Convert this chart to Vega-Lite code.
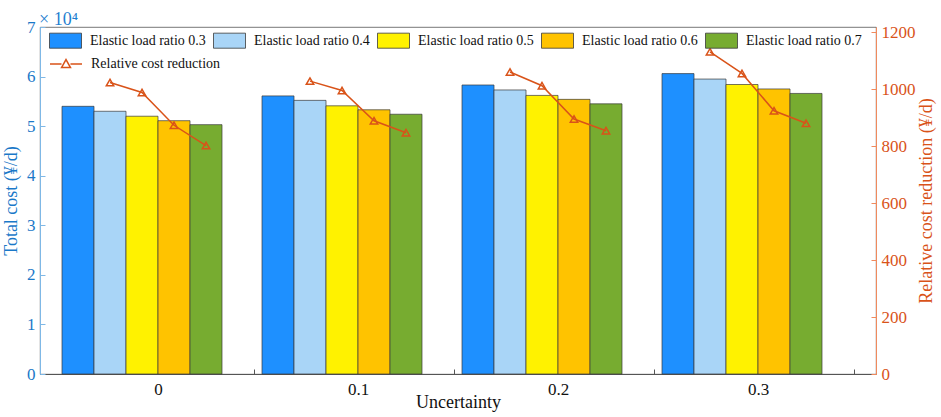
{
  "$schema": "https://vega.github.io/schema/vega-lite/v6.json",
  "description": "Total cost and relative cost reduction by uncertainty and elastic load ratio.",
  "width": 836,
  "height": 347,
  "autosize": {"type": "none"},
  "padding": {"left": 40, "top": 27, "right": 65, "bottom": 43},
  "title": {
    "text": "× 10⁴",
    "anchor": "start",
    "frame": "group",
    "font": "Liberation Serif",
    "fontSize": 18,
    "fontWeight": "normal",
    "color": "#1F7FD0",
    "baseline": "alphabetic",
    "offset": 2,
    "dx": -1,
    "dy": 27
  },
  "datasets": {
    "cost": [
      {"Uncertainty": "0", "Ratio": "Elastic load ratio 0.3", "Cost": 5.40},
      {"Uncertainty": "0", "Ratio": "Elastic load ratio 0.4", "Cost": 5.30},
      {"Uncertainty": "0", "Ratio": "Elastic load ratio 0.5", "Cost": 5.20},
      {"Uncertainty": "0", "Ratio": "Elastic load ratio 0.6", "Cost": 5.11},
      {"Uncertainty": "0", "Ratio": "Elastic load ratio 0.7", "Cost": 5.03},
      {"Uncertainty": "0.1", "Ratio": "Elastic load ratio 0.3", "Cost": 5.61},
      {"Uncertainty": "0.1", "Ratio": "Elastic load ratio 0.4", "Cost": 5.52},
      {"Uncertainty": "0.1", "Ratio": "Elastic load ratio 0.5", "Cost": 5.41},
      {"Uncertainty": "0.1", "Ratio": "Elastic load ratio 0.6", "Cost": 5.33},
      {"Uncertainty": "0.1", "Ratio": "Elastic load ratio 0.7", "Cost": 5.24},
      {"Uncertainty": "0.2", "Ratio": "Elastic load ratio 0.3", "Cost": 5.83},
      {"Uncertainty": "0.2", "Ratio": "Elastic load ratio 0.4", "Cost": 5.73},
      {"Uncertainty": "0.2", "Ratio": "Elastic load ratio 0.5", "Cost": 5.62},
      {"Uncertainty": "0.2", "Ratio": "Elastic load ratio 0.6", "Cost": 5.54},
      {"Uncertainty": "0.2", "Ratio": "Elastic load ratio 0.7", "Cost": 5.45},
      {"Uncertainty": "0.3", "Ratio": "Elastic load ratio 0.3", "Cost": 6.06},
      {"Uncertainty": "0.3", "Ratio": "Elastic load ratio 0.4", "Cost": 5.95},
      {"Uncertainty": "0.3", "Ratio": "Elastic load ratio 0.5", "Cost": 5.84},
      {"Uncertainty": "0.3", "Ratio": "Elastic load ratio 0.6", "Cost": 5.75},
      {"Uncertainty": "0.3", "Ratio": "Elastic load ratio 0.7", "Cost": 5.66}
    ],
    "reduction": [
      {"Uncertainty": "0", "Ratio": "Elastic load ratio 0.4", "Reduction": 1023},
      {"Uncertainty": "0", "Ratio": "Elastic load ratio 0.5", "Reduction": 988},
      {"Uncertainty": "0", "Ratio": "Elastic load ratio 0.6", "Reduction": 873},
      {"Uncertainty": "0", "Ratio": "Elastic load ratio 0.7", "Reduction": 802},
      {"Uncertainty": "0.1", "Ratio": "Elastic load ratio 0.4", "Reduction": 1028},
      {"Uncertainty": "0.1", "Ratio": "Elastic load ratio 0.5", "Reduction": 995},
      {"Uncertainty": "0.1", "Ratio": "Elastic load ratio 0.6", "Reduction": 889},
      {"Uncertainty": "0.1", "Ratio": "Elastic load ratio 0.7", "Reduction": 847},
      {"Uncertainty": "0.2", "Ratio": "Elastic load ratio 0.4", "Reduction": 1060},
      {"Uncertainty": "0.2", "Ratio": "Elastic load ratio 0.5", "Reduction": 1012},
      {"Uncertainty": "0.2", "Ratio": "Elastic load ratio 0.6", "Reduction": 895},
      {"Uncertainty": "0.2", "Ratio": "Elastic load ratio 0.7", "Reduction": 854},
      {"Uncertainty": "0.3", "Ratio": "Elastic load ratio 0.4", "Reduction": 1131},
      {"Uncertainty": "0.3", "Ratio": "Elastic load ratio 0.5", "Reduction": 1055},
      {"Uncertainty": "0.3", "Ratio": "Elastic load ratio 0.6", "Reduction": 924},
      {"Uncertainty": "0.3", "Ratio": "Elastic load ratio 0.7", "Reduction": 880}
    ]
  },
  "encoding": {
    "x": {
      "field": "Uncertainty",
      "type": "nominal",
      "scale": {"paddingInner": 0.04, "paddingOuter": 0.11},
      "axis": {
        "title": "Uncertainty",
        "labelAngle": 0,
        "tickBand": "extent",
        "tickSize": -5,
        "tickColor": "#555555",
        "domainColor": "#555555",
        "labelPadding": 12,
        "titlePadding": -4
      }
    },
    "xOffset": {
      "field": "Ratio",
      "type": "nominal",
      "scale": {
        "domain": ["Elastic load ratio 0.3", "Elastic load ratio 0.4", "Elastic load ratio 0.5", "Elastic load ratio 0.6", "Elastic load ratio 0.7", "slot"],
        "paddingInner": 0,
        "paddingOuter": 0
      }
    }
  },
  "layer": [
    {
      "data": {"name": "cost"},
      "mark": {"type": "bar", "stroke": "#3a3a3a", "strokeWidth": 0.7},
      "encoding": {
        "y": {
          "field": "Cost",
          "type": "quantitative",
          "scale": {"domain": [0, 7], "nice": false},
          "axis": {
            "orient": "left",
            "title": "Total cost (¥/d)",
            "values": [0, 1, 2, 3, 4, 5, 6, 7],
            "format": "d",
            "tickSize": -5,
            "labelPadding": 10,
            "titlePadding": 6,
            "labelColor": "#1A78C8",
            "titleColor": "#1A78C8",
            "tickColor": "#7FB8E6",
            "domainColor": "#7FB8E6"
          }
        },
        "color": {
          "field": "Ratio",
          "type": "nominal",
          "scale": {
            "domain": ["Elastic load ratio 0.3", "Elastic load ratio 0.4", "Elastic load ratio 0.5", "Elastic load ratio 0.6", "Elastic load ratio 0.7"],
            "range": ["#1E90FF", "#A9D5F7", "#FFF200", "#FFC300", "#77AC30"]
          },
          "legend": {
            "title": null,
            "orient": "none",
            "legendX": 9,
            "legendY": -3,
            "direction": "horizontal",
            "columns": 5,
            "columnPadding": 5,
            "symbolType": "M-1,-0.47H1V0.47H-1Z",
            "symbolSize": 1024,
            "symbolStrokeColor": "#3a3a3a",
            "symbolStrokeWidth": 0.8,
            "labelOffset": 8
          }
        }
      }
    },
    {
      "data": {"name": "reduction"},
      "mark": {
        "type": "line",
        "strokeWidth": 1.5,
        "xOffset": -16,
        "point": {"shape": "triangle-up", "filled": false, "size": 55, "strokeWidth": 1.5, "xOffset": -16}
      },
      "encoding": {
        "y": {
          "field": "Reduction",
          "type": "quantitative",
          "scale": {"domain": [0, 1218], "nice": false},
          "axis": {
            "orient": "right",
            "title": "Relative cost reduction (¥/d)",
            "titleAngle": 270,
            "titleBaseline": "bottom",
            "values": [0, 200, 400, 600, 800, 1000, 1200],
            "format": "d",
            "tickSize": -5,
            "labelPadding": 10,
            "titlePadding": 20,
            "labelColor": "#D95319",
            "titleColor": "#D95319",
            "tickColor": "#F08A5D",
            "domainColor": "#F08A5D"
          }
        },
        "detail": {"field": "Uncertainty"},
        "stroke": {
          "datum": "Relative cost reduction",
          "scale": {"range": ["#D95319"]},
          "legend": {
            "title": null,
            "orient": "none",
            "legendX": 9,
            "legendY": 20,
            "symbolType": "M-1,0H-0.28M0.28,0H1M-0.28,0.22L0,-0.28L0.28,0.22Z",
            "symbolSize": 1024,
            "symbolStrokeWidth": 1.5,
            "symbolFillColor": "transparent",
            "labelOffset": 8
          }
        }
      }
    }
  ],
  "resolve": {"scale": {"y": "independent"}},
  "config": {
    "font": "Liberation Serif",
    "view": {"stroke": "#555555", "strokeWidth": 0.8},
    "axis": {
      "grid": false,
      "labelFont": "Liberation Serif",
      "titleFont": "Liberation Serif",
      "labelFontSize": 17,
      "titleFontSize": 18,
      "titleFontWeight": "normal",
      "labelColor": "#111111",
      "titleColor": "#111111"
    },
    "legend": {
      "labelFont": "Liberation Serif",
      "labelFontSize": 14,
      "labelColor": "#111111"
    }
  }
}
